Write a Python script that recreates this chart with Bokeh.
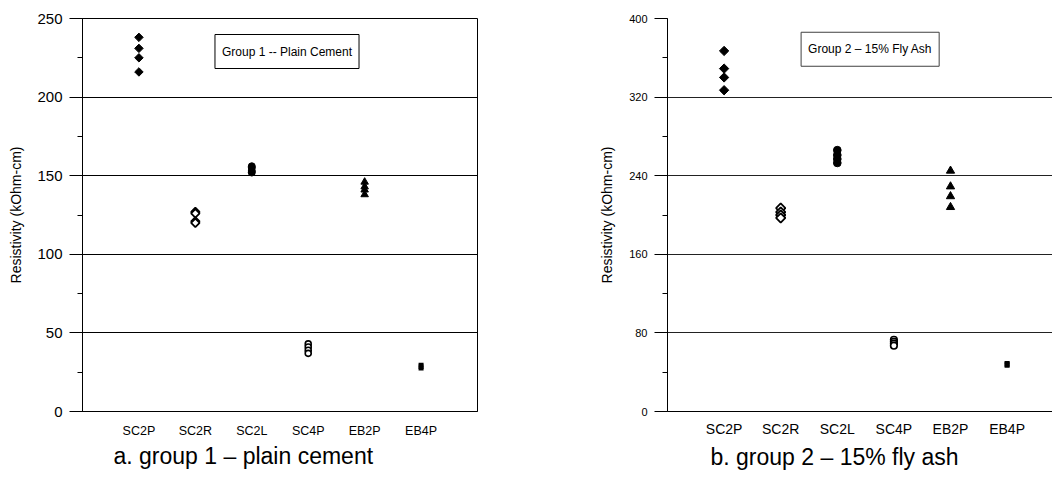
import numpy as np
from bokeh.plotting import figure
from bokeh.models import ColumnDataSource, FixedTicker, SingleIntervalTicker, Range1d, Label, Title
from bokeh.layouts import row
from bokeh.embed import file_html
from bokeh.resources import INLINE

categories = ["SC2P", "SC2R", "SC2L", "SC4P", "EB2P", "EB4P"]

# Group 1 -- plain cement (kOhm-cm)
g1_SC2P = [238, 231, 225, 216]
g1_SC2R = [127, 126, 121, 120]
g1_SC2L = [156, 155, 153, 152]
g1_SC4P = [43, 41, 39, 37]
g1_EB2P = [146, 143, 141, 138]
g1_EB4P = [30, 29, 28, 27]

# Group 2 -- 15% fly ash (kOhm-cm)
g2_SC2P = [367, 349, 340, 327]
g2_SC2R = [207, 203, 200, 197]
g2_SC2L = [266, 261, 257, 253]
g2_SC4P = [73, 71, 69, 67]
g2_EB2P = [245, 229, 219, 208]
g2_EB4P = [50, 49, 47, 46]

g1 = [g1_SC2P, g1_SC2R, g1_SC2L, g1_SC4P, g1_EB2P, g1_EB4P]
g2 = [g2_SC2P, g2_SC2R, g2_SC2L, g2_SC4P, g2_EB2P, g2_EB4P]

SANS = "Liberation Sans"


def marker_styles(scale):
    return [
        dict(marker="square", size=6 * scale, angle=np.pi / 4, fill_color="black", line_color="black", line_width=1),
        dict(marker="square", size=6 * scale, angle=np.pi / 4, fill_color="white", line_color="black", line_width=1.8),
        dict(marker="circle", size=7 * scale, fill_color="black", line_color="black", line_width=1),
        dict(marker="circle", size=6 * scale, fill_color="white", line_color="black", line_width=1.6),
        dict(marker="triangle", size=7.5 * scale, fill_color="black", line_color="black", line_width=1),
        dict(marker="dash", size=5, line_color="black", line_width=3),
    ]


def make_plot(data, width, height, mbl, mbr, mbt, mbb, xend, ymax, interval,
              tick_font, cat_font, cat_standoff, label_standoff, box, caption, grid_color, outline, scale):
    p = figure(width=width, height=height, output_backend="svg", toolbar_location=None,
               x_range=Range1d(0, xend), y_range=Range1d(0, ymax),
               min_border_left=mbl, min_border_right=mbr, min_border_top=mbt, min_border_bottom=mbb,
               background_fill_color="white", border_fill_color="white")
    p.outline_line_color = "black" if outline else None
    p.outline_line_width = 1

    for i, (vals, st) in enumerate(zip(data, marker_styles(scale))):
        src = ColumnDataSource(dict(x=[i + 1] * len(vals), y=vals))
        p.scatter("x", "y", source=src, **st)

    yt = SingleIntervalTicker(interval=interval, num_minor_ticks=2)
    p.yaxis.ticker = yt
    p.ygrid.ticker = yt
    p.ygrid.grid_line_color = grid_color
    p.ygrid.grid_line_width = 1
    p.xgrid.visible = False

    p.yaxis.axis_line_color = "black"
    p.yaxis.major_tick_line_color = "black"
    p.yaxis.minor_tick_line_color = "black"
    p.yaxis.major_tick_out = 13
    p.yaxis.major_tick_in = 0
    p.yaxis.minor_tick_out = 5
    p.yaxis.minor_tick_in = 0
    p.yaxis.major_label_standoff = 7
    p.yaxis.major_label_text_font = SANS
    p.yaxis.major_label_text_font_size = tick_font
    p.yaxis.major_label_text_color = "black"
    p.yaxis.axis_label = "Resistivity (kOhm-cm)"
    p.yaxis.axis_label_text_font = SANS
    p.yaxis.axis_label_text_font_size = "14px"
    p.yaxis.axis_label_text_font_style = "normal"
    p.yaxis.axis_label_text_color = "black"
    p.yaxis.axis_label_standoff = label_standoff

    p.xaxis.ticker = FixedTicker(ticks=list(range(1, len(categories) + 1)))
    p.xaxis.major_label_overrides = {i + 1: c for i, c in enumerate(categories)}
    p.xaxis.major_tick_line_color = None
    p.xaxis.minor_tick_line_color = None
    p.xaxis.axis_line_color = "black"
    p.xaxis.major_label_standoff = cat_standoff
    p.xaxis.major_label_text_font = SANS
    p.xaxis.major_label_text_font_size = cat_font
    p.xaxis.major_label_text_color = "black"

    bx, by, btext, bfont, bcolor, bpad = box
    p.add_layout(Label(x=bx, y=by, text=btext, text_align="center", text_baseline="middle",
                       text_font=SANS, text_font_size=bfont, text_color="black",
                       border_line_color=bcolor, border_line_width=1,
                       background_fill_color="white", padding=bpad))

    ctext, coff, cstand = caption
    p.add_layout(Title(text=ctext, align="left", offset=coff, standoff=cstand,
                       text_font=SANS, text_font_size="23px", text_font_style="normal",
                       text_color="black"), "below")
    return p


p1 = make_plot(g1, 548, 476, 82, 71, 18, 63, 7, 250, 50, "15px", "12.5px", 6, 10,
               (3.624, 229, "Group 1 -- Plain Cement", "12px", "black", (7, 10)),
               ("a. group 1 \u2013 plain cement", 31, 1), "black", True, 1.0)
p2 = make_plot(g2, 504, 476, 119, 0, 15, 65, 385 / 56.6, 400, 80, "11px", "14px", 3, 11,
               (3.58, 368.7, "Group 2 \u2013 15% Fly Ash", "12px", "#404040", (7, 10)),
               ("b. group 2 \u2013 15% fly ash", 43, 4), "#222222", False, 1.1)

layout = row(p1, p2)
open("out.html", "w").write(file_html(layout, INLINE))
